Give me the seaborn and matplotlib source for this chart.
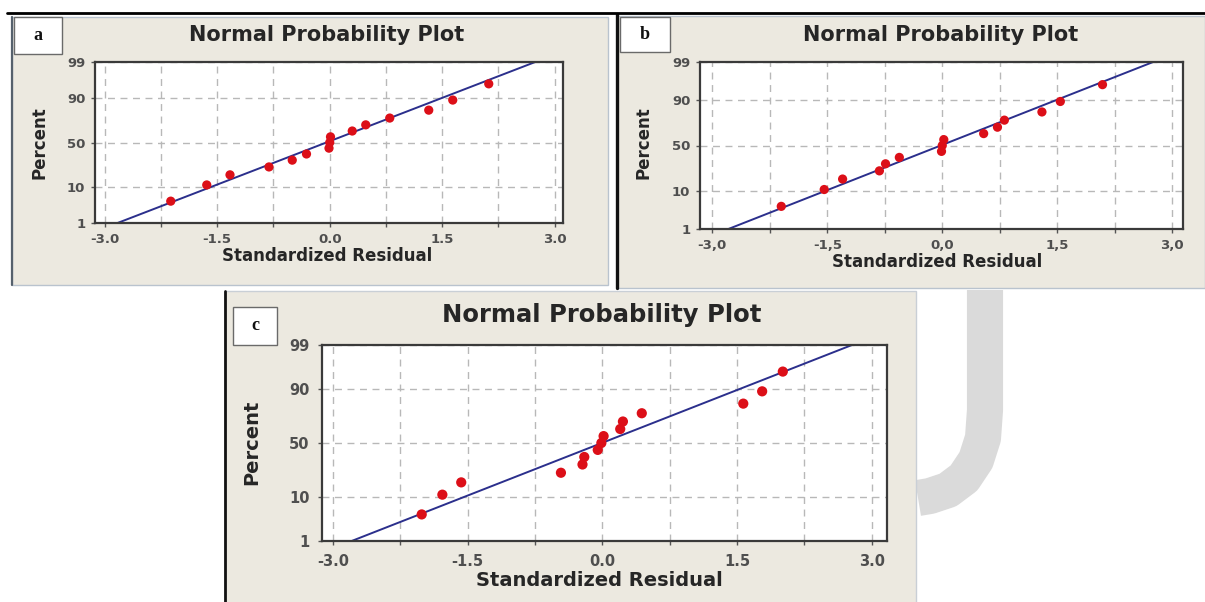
import numpy as np
import pandas as pd
import matplotlib
matplotlib.use("Agg")
import matplotlib.pyplot as plt
import seaborn as sns
from statistics import NormalDist
from matplotlib.patches import Rectangle
from matplotlib.lines import Line2D

# ---------------- data ----------------
percent = [4.5, 11, 17.5, 24, 30.5, 37, 43.5, 50, 56.5, 63, 69.5, 76, 82.5, 89, 95.5]
resid_a = [-2.12, -1.64, -1.33, -0.81, -0.50, -0.31, -0.01, 0.00, 0.01, 0.30, 0.48, 0.80, 1.32, 1.64, 2.12]
resid_b = [-2.10, -1.54, -1.30, -0.82, -0.74, -0.56, -0.01, 0.00, 0.02, 0.54, 0.72, 0.81, 1.30, 1.54, 2.09]
resid_c = [-2.01, -1.78, -1.57, -0.46, -0.22, -0.20, -0.05, -0.01, 0.015, 0.20, 0.23, 0.44, 1.57, 1.78, 2.01]
fit_percent = [1, 99]
fit_a = [-2.83, 2.74]
fit_b = [-2.79, 2.75]
fit_c = [-2.79, 2.78]
y_ticks = [1, 10, 50, 90, 99]
y_ticklabels = ["1", "10", "50", "90", "99"]
x_ticks = [-3.0, -1.5, 0.0, 1.5, 3.0]
x_ticklabels_a = ["-3.0", "-1.5", "0.0", "1.5", "3.0"]
x_ticklabels_b = ["-3,0", "-1,5", "0,0", "1,5", "3,0"]
x_ticklabels_c = ["-3.0", "-1.5", "0.0", "1.5", "3.0"]
x_minor = [-2.25, -0.75, 0.75, 2.25]
panel_letters = ["a", "b", "c"]
title = "Normal Probability Plot"
xlab = "Standardized Residual"
ylab = "Percent"

# ---------------- probability scale ----------------
ND = NormalDist()
_ppf = np.vectorize(ND.inv_cdf, otypes=[float])
_cdf = np.vectorize(ND.cdf, otypes=[float])


def fwd(p):
    q = np.clip(np.asarray(p, dtype=float) / 100.0, 1e-9, 1 - 1e-9)
    return _ppf(q)


def inv(z):
    return _cdf(np.asarray(z, dtype=float)) * 100.0


# ---------------- figure ----------------
W, H = 1205, 602
sns.set_style("white")
plt.rcParams["font.family"] = ["DejaVu Sans"]
fig = plt.figure(figsize=(W / 100, H / 100), dpi=100)
fig.patch.set_facecolor("white")

BEIGE = "#ECE9E0"
RED = "#DC0F18"
NAVY = "#2B2F8C"
GRID = "#B8B8B8"
TXT = "#262626"
TICK = "#4F4F4F"


def fx(x):
    return x / W


def fy(y):
    return 1 - y / H


def rect(x0, y0, x1, y1, **kw):
    r = Rectangle((fx(x0), fy(y1)), fx(x1) - fx(x0), fy(y0) - fy(y1),
                  transform=fig.transFigure, **kw)
    fig.patches.append(r)


def hline(x0, x1, y, **kw):
    fig.add_artist(Line2D([fx(x0), fx(x1)], [fy(y), fy(y)], transform=fig.transFigure, **kw))


def vline(x, y0, y1, **kw):
    fig.add_artist(Line2D([fx(x), fx(x)], [fy(y0), fy(y1)], transform=fig.transFigure, **kw))


# watermark-like light grey "J" to the right of panel c
jx = [985, 985, 983, 976, 964, 948, 930, 918]
jy = [290, 410, 438, 460, 478, 490, 496, 498]
fig.add_artist(Line2D([fx(v) for v in jx], [fy(v) for v in jy], transform=fig.transFigure,
                      color="#DADADA", lw=26, solid_capstyle="butt", zorder=-20))

# panel backgrounds
rect(12, 17, 608, 285, facecolor=BEIGE, edgecolor="#B9C3CE", lw=1.0, zorder=-10)
rect(617, 16, 1205, 288, facecolor=BEIGE, edgecolor="#B9C3CE", lw=1.0, zorder=-10)
rect(225, 291, 916, 603, facecolor=BEIGE, edgecolor="#C9CFD6", lw=1.0, zorder=-10)
vline(12, 17, 285, color="#56616D", lw=1.6)
vline(617, 14, 288, color="#111111", lw=2.4)
vline(225, 291, 602, color="#111111", lw=2.0)
hline(7, 1205, 13, color="#000000", lw=2.0)

panels = [
    dict(box=(95, 563, 62, 223), resid=resid_a, fit=fit_a, xtl=x_ticklabels_a,
         title_xy=(327, 35), xl_xy=(327, 256), yl_xy=(39, 143), letter_box=(14, 17, 62, 54),
         fs_title=15.0, fs_lab=12.0, fs_tick=9.5, ms=44, pad=4.0, xlim=(-3.13, 3.11)),
    dict(box=(700, 1183, 62, 229), resid=resid_b, fit=fit_b, xtl=x_ticklabels_b,
         title_xy=(941, 35), xl_xy=(937, 262), yl_xy=(643, 143), letter_box=(620, 17, 670, 52),
         fs_title=15.0, fs_lab=12.0, fs_tick=9.5, ms=44, pad=4.0, xlim=(-3.16, 3.14)),
    dict(box=(322, 887, 345, 541), resid=resid_c, fit=fit_c, xtl=x_ticklabels_c,
         title_xy=(602, 315), xl_xy=(599, 580), yl_xy=(252, 442), letter_box=(233, 307, 277, 345),
         fs_title=17.5, fs_lab=14.0, fs_tick=10.5, ms=54, pad=6.0, xlim=(-3.12, 3.17)),
]

for letter, p in zip(panel_letters, panels):
    l, r, t, b = p["box"]
    ax = fig.add_axes([fx(l), fy(b), fx(r) - fx(l), fy(t) - fy(b)])
    ax.set_facecolor("white")

    df = pd.DataFrame({"resid": p["resid"], "percent": percent})
    fit_df = pd.DataFrame({"resid": p["fit"], "percent": fit_percent})
    sns.lineplot(data=fit_df, x="resid", y="percent", ax=ax, color=NAVY, lw=1.4,
                 errorbar=None, zorder=2.5)
    sns.scatterplot(data=df, x="resid", y="percent", ax=ax, color=RED, s=p["ms"],
                    edgecolor="none", linewidth=0, zorder=3)

    ax.set_yscale("function", functions=(fwd, inv))
    ax.set_ylim(1, 99)
    ax.set_xlim(*p["xlim"])
    ax.set_yticks(y_ticks)
    ax.set_yticklabels(y_ticklabels)
    ax.set_xticks(x_ticks)
    ax.set_xticklabels(p["xtl"])
    ax.set_xticks(x_minor, minor=True)
    ax.yaxis.set_minor_locator(matplotlib.ticker.NullLocator())

    ax.grid(True, which="both", axis="x", color=GRID, ls=(0, (5, 4)), lw=1.0, zorder=0)
    ax.grid(True, which="major", axis="y", color=GRID, ls=(0, (5, 4)), lw=1.0, zorder=0)
    ax.set_axisbelow(True)

    ax.tick_params(axis="both", which="both", direction="out", length=3, width=1.0,
                   color="#555555", pad=p["pad"], labelsize=p["fs_tick"], labelcolor=TICK,
                   bottom=True, left=True)
    for lab in ax.get_xticklabels() + ax.get_yticklabels():
        lab.set_fontweight("bold")
    for sp in ax.spines.values():
        sp.set_visible(True)
        sp.set_color("#3A3A3A")
        sp.set_linewidth(1.6)

    ax.set_xlabel(xlab, fontsize=p["fs_lab"], fontweight="bold", color=TXT)
    ax.set_ylabel(ylab, fontsize=p["fs_lab"], fontweight="bold", color=TXT)
    ax.xaxis.label.set_va("center")
    ax.yaxis.label.set_va("center")
    ax.xaxis.set_label_coords((p["xl_xy"][0] - l) / (r - l), (b - p["xl_xy"][1]) / (b - t))
    ax.yaxis.set_label_coords((p["yl_xy"][0] - l) / (r - l), (b - p["yl_xy"][1]) / (b - t))

    fig.text(fx(p["title_xy"][0]), fy(p["title_xy"][1]), title, ha="center", va="center",
             fontsize=p["fs_title"], fontweight="bold", color=TXT)

    x0, y0, x1, y1 = p["letter_box"]
    rect(x0, y0, x1, y1, facecolor="white", edgecolor="#6A6A6A", lw=1.0, zorder=-5)
    fig.text(fx((x0 + x1) / 2), fy((y0 + y1) / 2), letter, ha="center", va="center",
             fontsize=13, fontweight="bold", family=["Liberation Serif"], color="#111111")

fig.savefig("out.png", dpi=100, facecolor="white")
